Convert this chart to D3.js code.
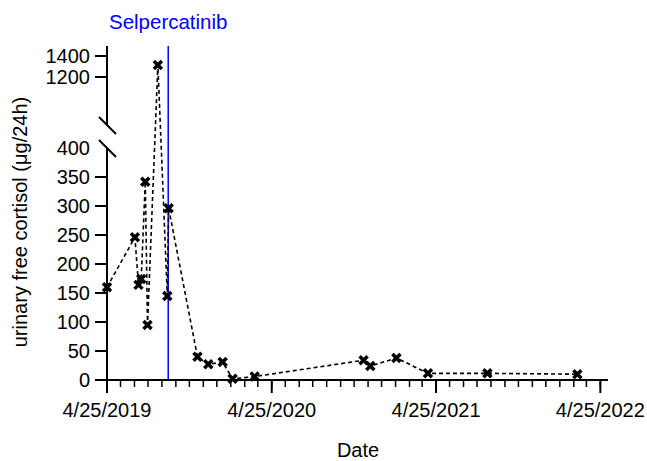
<!DOCTYPE html>
<html>
<head>
<meta charset="utf-8">
<script src="https://cdn.jsdelivr.net/npm/d3@7"></script>
<style>
  body { margin: 0; background: #fff; }
  text { font-family: "Liberation Sans", Arial, sans-serif; }
</style>
</head>
<body>
<div id="chart"></div>
<script>
// data
const dates = [
    "2019-04-25", "2019-06-26", "2019-07-04", "2019-07-10", "2019-07-19",
    "2019-07-24", "2019-08-16", "2019-09-06", "2019-09-09", "2019-11-12",
    "2019-12-06", "2020-01-07", "2020-01-29", "2020-03-18", "2020-11-15",
    "2020-11-30", "2021-01-27", "2021-04-07", "2021-08-17", "2022-03-05"
];
const cortisol = [
    160, 246, 164, 174, 342,
    95, 1314, 145, 296, 40,
    27, 31, 2, 6, 34,
    24, 38, 11.5, 11.5, 10
];
const drugStart = "2019-09-08";
const drugName = "Selpercatinib";
const lowTicks = [0, 50, 100, 150, 200, 250, 300, 350, 400];
const highTicks = [1200, 1400];
const xTickDates = ["2019-04-25", "2020-04-25", "2021-04-25", "2022-04-25"];

const parse = d3.timeParse("%Y-%m-%d");
const fmt = d3.timeFormat("%-m/%-d/%Y");
const points = dates.map((d, i) => ({ date: parse(d), v: cortisol[i] }));

const svg = d3.select("#chart").append("svg")
    .attr("width", 647)
    .attr("height", 461);

const axisX = 107;
const axisY = 380;

const x = d3.scaleTime()
    .domain([parse("2019-04-25"), parse("2022-05-12")])
    .range([axisX, 608]);

// broken y axis: two linear pieces
const yLow = d3.scaleLinear().domain([0, 400]).range([axisY, 148]);
const yHigh = d3.scaleLinear().domain([1200, 1400]).range([77, 56]);
const y = v => (v > 400 ? yHigh(v) : yLow(v));

// --- x axis ---
const months = d3.range(0, 37).map(m => d3.timeMonth.offset(parse("2019-04-25"), m));

svg.append("line")
    .attr("x1", axisX).attr("x2", x.range()[1])
    .attr("y1", axisY).attr("y2", axisY)
    .attr("stroke", "black").attr("stroke-width", 2);

svg.selectAll(".minor")
    .data(months)
    .enter().append("line")
    .attr("x1", d => x(d)).attr("x2", d => x(d))
    .attr("y1", axisY).attr("y2", axisY + 7)
    .attr("stroke", "black").attr("stroke-width", 1.5);

svg.selectAll(".major")
    .data(xTickDates.map(parse))
    .enter().append("line")
    .attr("x1", d => x(d)).attr("x2", d => x(d))
    .attr("y1", axisY).attr("y2", axisY + 13)
    .attr("stroke", "black").attr("stroke-width", 2);

svg.selectAll(".xlabel")
    .data(xTickDates.map(parse))
    .enter().append("text")
    .attr("x", d => x(d))
    .attr("y", 417)
    .attr("text-anchor", "middle")
    .attr("font-size", 20)
    .text(d => fmt(d));

svg.append("text")
    .attr("x", 358).attr("y", 457)
    .attr("text-anchor", "middle")
    .attr("font-size", 20)
    .text("Date");

// --- y axis ---
svg.append("line")
    .attr("x1", axisX).attr("x2", axisX)
    .attr("y1", 46).attr("y2", 125)
    .attr("stroke", "black").attr("stroke-width", 2);
svg.append("line")
    .attr("x1", axisX).attr("x2", axisX)
    .attr("y1", 148).attr("y2", axisY + 1)
    .attr("stroke", "black").attr("stroke-width", 2);

// break slashes
[125, 148].forEach(cy => {
    svg.append("line")
        .attr("x1", axisX - 8).attr("y1", cy - 8)
        .attr("x2", axisX + 9).attr("y2", cy + 9)
        .attr("stroke", "black").attr("stroke-width", 2);
});

const yTicks = lowTicks.concat(highTicks);
svg.selectAll(".ytick")
    .data(yTicks.filter(d => d !== 400))
    .enter().append("line")
    .attr("x1", axisX - 12).attr("x2", axisX)
    .attr("y1", d => y(d)).attr("y2", d => y(d))
    .attr("stroke", "black").attr("stroke-width", 2);

svg.selectAll(".ylabel")
    .data(yTicks)
    .enter().append("text")
    .attr("x", 90)
    .attr("y", d => y(d))
    .attr("dy", "0.35em")
    .attr("text-anchor", "end")
    .attr("font-size", 20)
    .text(d => d);

svg.append("text")
    .attr("transform", "translate(27,222) rotate(-90)")
    .attr("text-anchor", "middle")
    .attr("font-size", 20)
    .text("urinary free cortisol (μg/24h)");

// --- treatment start ---
const dx = x(parse(drugStart));
svg.append("line")
    .attr("x1", dx).attr("x2", dx)
    .attr("y1", 46).attr("y2", axisY)
    .attr("stroke", "#0000ff").attr("stroke-width", 1.5);
svg.append("text")
    .attr("x", dx).attr("y", 29)
    .attr("text-anchor", "middle")
    .attr("font-size", 20.5)
    .attr("fill", "#0000ff")
    .text(drugName);

// --- data line ---
svg.append("path")
    .attr("d", d3.line().x(d => x(d.date)).y(d => y(d.v))(points))
    .attr("fill", "none")
    .attr("stroke", "black")
    .attr("stroke-width", 1.6)
    .attr("stroke-dasharray", "4 3");

svg.selectAll(".pt")
    .data(points)
    .enter().append("path")
    .attr("transform", d => "translate(" + x(d.date) + "," + y(d.v) + ")")
    .attr("d", "M-4,-4L4,4M-4,4L4,-4")
    .attr("stroke", "black")
    .attr("stroke-width", 3.5);
</script>
</body>
</html>
